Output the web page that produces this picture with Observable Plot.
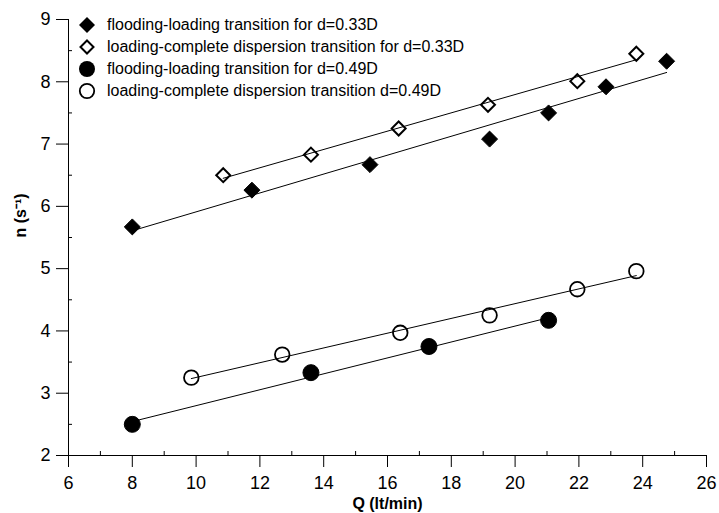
<!DOCTYPE html>
<html><head><meta charset="utf-8">
<script src="https://cdn.jsdelivr.net/npm/d3@7"></script>
<script src="https://cdn.jsdelivr.net/npm/@observablehq/plot@0.6"></script>
<style>
body{margin:0;background:#fff;font-family:"Liberation Sans",Arial,sans-serif;}
#wrap{position:relative;width:719px;height:513px;}
#legend{position:absolute;left:76px;top:14px;font-size:16px;color:#000;}
#legend .row{display:flex;align-items:center;height:22px;}
#legend svg{width:22px;height:20px;margin-right:9px;}
g[aria-label$="tick label"]{font-size:18px !important;font-family:"Liberation Sans",Arial,sans-serif !important;}
</style></head>
<body><div id="wrap"><div id="legend"></div></div>
<script>
// data
const fd33Q = [8.0, 11.75, 15.45, 19.2, 21.05, 22.85, 24.75];
const fd33N = [5.67, 6.26, 6.67, 7.08, 7.50, 7.92, 8.33];
const cd33Q = [10.85, 13.6, 16.35, 19.15, 21.95, 23.8];
const cd33N = [6.50, 6.83, 7.25, 7.63, 8.01, 8.45];
const fd49Q = [8.0, 13.6, 17.3, 21.05];
const fd49N = [2.50, 3.33, 3.75, 4.17];
const cd49Q = [9.85, 12.7, 16.4, 19.2, 21.95, 23.8];
const cd49N = [3.25, 3.62, 3.97, 4.25, 4.67, 4.96];
const seriesNames = [
  "flooding-loading transition for d=0.33D",
  "loading-complete dispersion transition for d=0.33D",
  "flooding-loading transition for d=0.49D",
  "loading-complete dispersion transition d=0.49D"
];
const xMajor = d3.range(6, 27, 2);
const xMinor = d3.range(7, 26, 2);
const yMajor = d3.range(2, 10, 1);
const yMinor = d3.range(2.5, 9, 1);

const mk = (Q, N) => Q.map((q, i) => ({Q: q, n: N[i]}));
const s1 = mk(fd33Q, fd33N), s2 = mk(cd33Q, cd33N), s3 = mk(fd49Q, fd49N), s4 = mk(cd49Q, cd49N);

const reg = d => Plot.linearRegressionY(d, {x: "Q", y: "n", ci: 0, stroke: "black", strokeWidth: 1});

const chart = Plot.plot({
  width: 719, height: 513,
  marginLeft: 68, marginRight: 13, marginTop: 19, marginBottom: 58,
  style: {fontFamily: "'Liberation Sans', Arial, sans-serif", fontSize: "17px", color: "black", background: "white"},
  x: {domain: [6, 26]},
  y: {domain: [2, 9]},
  marks: [
    Plot.axisX({ticks: xMinor, tickSize: -4, text: null, label: null}),
    Plot.axisX({ticks: xMajor, tickSize: 12, tickPadding: 9, tickFormat: d => d, label: null, fontSize: 18}),
    Plot.axisY({ticks: yMinor, tickSize: -4, text: null, label: null}),
    Plot.axisY({ticks: yMajor, tickSize: 12, tickPadding: 6, tickFormat: d => d, label: null, fontSize: 18}),
    Plot.ruleY([2], {strokeWidth: 1}),
    Plot.ruleX([6], {strokeWidth: 1}),
    reg(s1), reg(s2), reg(s3), reg(s4),
    Plot.dot(s1, {x: "Q", y: "n", symbol: "diamond2", r: 7.2, fill: "black", stroke: "black", strokeWidth: 1}),
    Plot.dot(s2, {x: "Q", y: "n", symbol: "diamond2", r: 6.3, fill: "none", stroke: "black", strokeWidth: 2}),
    Plot.dot(s3, {x: "Q", y: "n", r: 8, fill: "black", stroke: "black", strokeWidth: 1}),
    Plot.dot(s4, {x: "Q", y: "n", r: 7.3, fill: "none", stroke: "black", strokeWidth: 1.8}),
    Plot.text(["Q (lt/min)"], {frameAnchor: "bottom", dy: 48, lineAnchor: "middle", text: d => d, fontWeight: "bold", fontSize: 16}),
    Plot.text(["n (s⁻¹)"], {frameAnchor: "left", dx: -48, rotate: -90, text: d => d, fontWeight: "bold", fontSize: 16})
  ]
});
document.getElementById("wrap").prepend(chart);

const symbols = [
  '<path d="M11,2 L19,10 L11,18 L3,10 Z" fill="black"/>',
  '<path d="M11,3.5 L17.5,10 L11,16.5 L4.5,10 Z" fill="none" stroke="black" stroke-width="2"/>',
  '<circle cx="11" cy="10" r="8" fill="black"/>',
  '<circle cx="11" cy="10" r="7.2" fill="none" stroke="black" stroke-width="1.8"/>'
];
const leg = document.getElementById("legend");
seriesNames.forEach((name, i) => {
  const row = document.createElement("div");
  row.className = "row";
  row.innerHTML = `<svg viewBox="0 0 22 20">${symbols[i]}</svg><span>${name}</span>`;
  leg.appendChild(row);
});
</script></body></html>
